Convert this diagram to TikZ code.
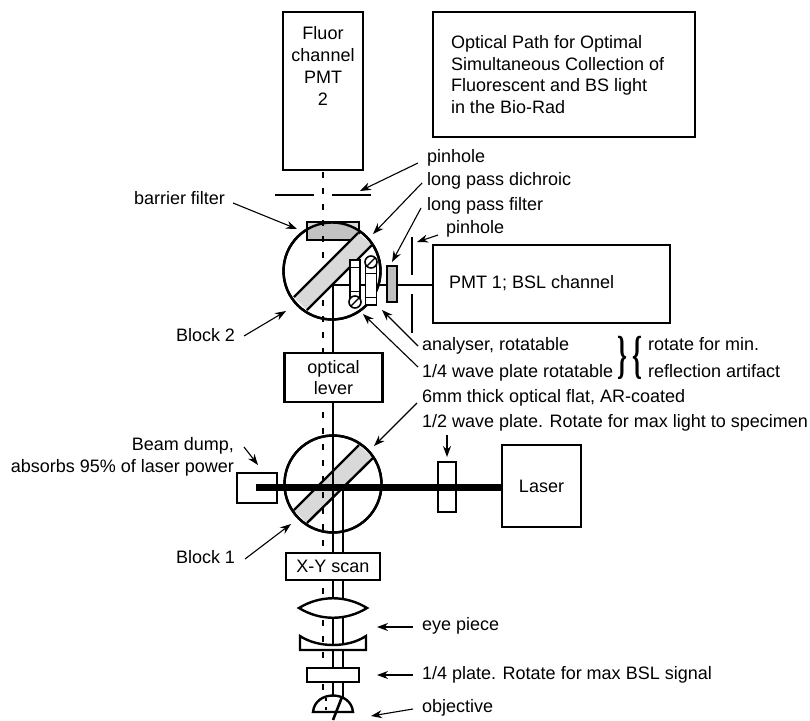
\documentclass[tikz,border=0pt]{standalone}
\usepackage{fontspec}
\setmainfont{Liberation Sans}
\newfontfamily\bracefont{Liberation Serif}
\usetikzlibrary{arrows.meta}
\begin{document}
\begin{tikzpicture}[
      x=1pt,y=-1pt,
      >={Stealth[length=11pt,width=8pt]},
      box/.style={draw=black,line width=2.4pt,fill=white,inner sep=0pt,
        outer sep=0pt,align=center,font=\fontsize{18}{21.8}\selectfont},
      txt/.style={inner sep=0pt,outer sep=0pt,align=left,anchor=west,
        text height=13pt,text depth=4pt,font=\fontsize{18}{21.8}\selectfont},
      para/.style={inner sep=0pt,outer sep=0pt,font=\fontsize{18}{21.8}\selectfont},
      brace/.style={inner sep=0pt,outer sep=0pt,xscale=.7,yscale=1.45,transform shape,
        font=\fontsize{36}{36}\bracefont\bfseries},
      beam/.style={line width=2.2pt},
      thickbeam/.style={line width=7pt},
      axisline/.style={line width=2.6pt,dash pattern=on 6pt off 10pt,dash phase=14pt},
      callout/.style={line width=1.1pt,->},
      blockring/.style={draw=black,line width=2.4pt,circle,inner sep=0pt,
        outer sep=0pt,minimum size=97pt},
      mount/.style={draw=black,line width=1.6pt,fill=white,inner sep=0pt},
      screw/.style={draw=black,line width=1.6pt,circle,fill=white,inner sep=0pt,
        minimum size=12pt}
    ]
    \useasboundingbox (0,0) rectangle (810,720);
    % detectors and title
    \node[box,minimum width=80pt,minimum height=158pt] (fluor) at (323,91) {};
    \node[box,minimum width=262pt,minimum height=125pt] (title) at (564,74.5) {};
    \node[box,minimum width=237pt,minimum height=78pt] (pmt) at (551.5,284) {};
    \node[para,align=center] (fluortext) at (323,66)
      {Fluor\\channel\\PMT\\2};
    \node[para,align=left,anchor=west] (titletext) at (451,74.5)
      {Optical Path for Optimal\\Simultaneous Collection of\\Fluorescent and BS light\\in the Bio-Rad};
    \node[txt] (pmttext) at (449,284) {PMT 1; BSL channel};
    % block 1 sits under the dashed axis
    \node[blockring,fill=white] (blockone) at (333,484) {};
    \coordinate (bandOa) at (294,510);
    \coordinate (bandOb) at (359,445);
    \coordinate (bandOc) at (373,458);
    \coordinate (bandOd) at (307,523);
    \fill[black!15] (bandOa) -- (bandOb) -- (bandOc) -- (bandOd) -- cycle;
    \draw[line width=2.4pt] (bandOa) -- (bandOb) (bandOd) -- (bandOc);
    \node[blockring] (blockonering) at (333,484) {};
    % block 2, barrier filter on top of the ring
    \node[blockring,fill=white] (blocktwo) at (332,271) {};
    \node[box,fill=black!15,minimum width=52pt,minimum height=18pt] (barrier) at (333,231) {};
    \begin{scope}
      \clip (barrier.north west) rectangle (barrier.south east);
      \fill[black!24] (blocktwo.center) circle[radius=48.5];
    \end{scope}
    \draw[line width=2.4pt] (barrier.north west) rectangle (barrier.south east);
    % dashed axis
    \coordinate (axisend) at (323,692);
    \draw[axisline] (fluor.south) -- (axisend);
    \coordinate (bandTa) at (294,297);
    \coordinate (bandTb) at (358,233);
    \coordinate (bandTc) at (372,245);
    \coordinate (bandTd) at (307,310);
    \fill[black!15] (bandTa) -- (bandTb) -- (bandTc) -- (bandTd) -- cycle;
    \draw[line width=2.4pt] (bandTa) -- (bandTb) (bandTd) -- (bandTc);
    \node[blockring] (blocktworing) at (332,271) {};
    \coordinate (turnT) at (333,285);
    \draw[beam] (turnT) -- (pmt.west |- turnT);
    \node[box,minimum width=98pt,minimum height=49pt] (lever) at (333.5,377.5)
      {optical\\lever};
    \draw[beam] (turnT) -- (lever.north -| turnT);
    % analyser, quarter wave plate and screws
    \node[mount,minimum width=10pt,minimum height=44pt] (analyser) at (355,282) {};
    \node[mount,minimum width=11pt,minimum height=44pt] (quarter) at (371,283) {};
    \draw[line width=0.8pt] (350,267) -- (360,267) (350,291) -- (360,291)
      (365.5,273) -- (376.5,273) (365.5,297) -- (376.5,297);
    \foreach \sname/\sx/\sy in {screwa/355/302,screwb/371/262}{
      \node[screw,path picture={
        \foreach \d in {-3,0,3}
          \draw[line width=0.8pt] ([xshift=\d pt-6pt,yshift=\d pt-6pt]path picture bounding box.center)
            -- ([xshift=\d pt+6pt,yshift=\d pt+6pt]path picture bounding box.center);
      }] (\sname) at (\sx,\sy) {};
    }
    \node[box,fill=black!25,minimum width=10pt,minimum height=36pt] (lpfilter) at (392,284) {};
    % pinholes
    \coordinate (phLa) at (275,195);
    \coordinate (phLb) at (314,195);
    \coordinate (phRa) at (332,195);
    \coordinate (phRb) at (371,195);
    \coordinate (phTa) at (412,237);
    \coordinate (phTb) at (412,275);
    \coordinate (phBa) at (412,294);
    \coordinate (phBb) at (412,333);
    \draw[beam] (phLa) -- (phLb) (phRa) -- (phRb) (phTa) -- (phTb) (phBa) -- (phBb);
    % laser path
    \node[box,minimum width=40pt,minimum height=30pt] (dump) at (257,488) {};
    \node[box,minimum width=18pt,minimum height=50pt] (halfplate) at (447,487) {};
    \node[box,minimum width=79pt,minimum height=82pt] (laser) at (541.5,486) {Laser};
    \coordinate (dumpin) at (256,487);
    \coordinate (split) at (343,487);
    \draw[thickbeam] (dumpin) -- (laser.west |- dumpin);
    % scan optics
    \node[box,minimum width=94pt,minimum height=27pt] (scan) at (333,566.5) {X-Y scan};
    \draw[beam] (lever.south -| turnT) -- (scan.north -| turnT);
    \draw[beam] (split) -- (scan.north -| split);
    \coordinate (tubeA) at (333,697);
    \coordinate (tubeB) at (343,697);
    \draw[beam] (scan.south -| tubeA) -- (tubeA) (scan.south -| tubeB) -- (tubeB);
    \coordinate (lensL) at (299,608);
    \coordinate (lensR) at (367,608);
    \draw[fill=white,line width=2.4pt] (lensL) .. controls (320,595) and (346,595) .. (lensR)
      .. controls (346,621) and (320,621) .. (lensL) -- cycle;
    \coordinate (menA) at (300,636);
    \coordinate (menB) at (366,636);
    \draw[fill=white,line width=2.4pt] (menA) .. controls (318,648) and (348,648) .. (menB)
      -- (366,650) -- (300,650) -- cycle;
    \node[box,minimum width=52pt,minimum height=14pt] (plate) at (333,675) {};
    \coordinate (domeL) at (313,712);
    \coordinate (domeR) at (353,712);
    \draw[fill=white,line width=2.4pt] (domeL) .. controls (315,690) and (351,690) .. (domeR) -- cycle;
    \draw[line width=1.8pt,dash pattern=on 3pt off 6pt] (326,698) -- (326,712);
    \coordinate (focusA) at (342,697);
    \coordinate (focusB) at (333,720);
    \draw[line width=2.6pt] (focusA) -- (focusB);
    % labels
    \node[txt] (lpinhole) at (427,158) {pinhole};
    \node[txt] (ldichroic) at (427,181) {long pass dichroic};
    \node[txt] (lfilter) at (427,206) {long pass filter};
    \node[txt] (lpinholeb) at (446,229) {pinhole};
    \node[txt] (lbarrier) at (134,200) {barrier filter};
    \node[txt] (lblocktwo) at (176,337) {Block 2};
    \node[txt] (lanalyser) at (422,346) {analyser, rotatable};
    \node[txt] (lquarter) at (422,373) {1/4 wave plate rotatable};
    \node[brace] (bracea) at (622,358) {\}};
    \node[brace] (braceb) at (637,358) {\{};
    \node[txt] (lrotate) at (648,346) {rotate for min.};
    \node[txt] (lartifact) at (648,373) {reflection artifact};
    \node[txt] (lflat) at (422,398) {6mm thick optical flat, AR-coated};
    \node[txt] (lhalf) at (422,423) {1/2 wave plate. Rotate for max light to specimen};
    \node[para,align=right,anchor=east] (ldump) at (234,457)
      {Beam dump,\\absorbs 95\% of laser power};
    \node[txt] (lblockone) at (176,559) {Block 1};
    \node[txt] (leye) at (422,626) {eye piece};
    \node[txt] (lplate) at (422,675) {1/4 plate. Rotate for max BSL signal};
    \node[txt] (lobjective) at (422,708) {objective};
    % callout arrows
    \foreach \tname/\tx/\ty/\hname/\hx/\hy in {
      ca/418/163/cb/360/191, cc/422/183/cd/373/234, ce/421/208/cf/392/262,
      cg/438/235/ch/417/242, ci/233/203/cj/297/229, ck/244/336/cl/286/311,
      cm/418/346/cn/382/310, co/418/367/cp/363/314, cq/417/403/cr/374/446,
      cs/447/435/ct/447/457, cu/244/447/cv/258/465, cw/245/559/cx/291/524,
      cy/413/627/cz/377/627, da/413/675/db/377/675, dc/413/709/dd/371/716}{
      \coordinate (\tname) at (\tx,\ty);
      \coordinate (\hname) at (\hx,\hy);
      \draw[callout] (\tname) -- (\hname);
    }
  \end{tikzpicture}
\end{document}
